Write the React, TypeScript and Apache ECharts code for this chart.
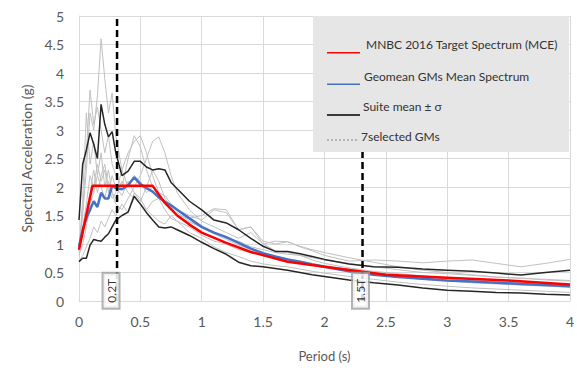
import React, { useEffect, useRef } from "react";
import * as echarts from "echarts";

// Common period grid (s) for the ground-motion spectra
const periods = [
  0, 0.03, 0.06, 0.09, 0.12, 0.15, 0.18, 0.21, 0.24, 0.27, 0.3, 0.35, 0.4, 0.45, 0.5, 0.55, 0.6,
  0.65, 0.7, 0.75, 0.8, 0.9, 1.0, 1.1, 1.2, 1.3, 1.4, 1.5, 1.6, 1.7, 1.8, 1.9, 2.0, 2.2, 2.4, 2.6,
  2.8, 3.0, 3.2, 3.4, 3.6, 3.8, 4.0,
];

// MNBC 2016 target spectrum (MCE)
const targetPeriods = [0, 0.11, 0.6, 0.7, 0.8, 0.9, 1.0, 1.2, 1.4, 1.7, 2.0, 2.5, 3.0, 3.5, 4.0];
const targetSa = [0.9, 2.02, 2.02, 1.72, 1.5, 1.34, 1.2, 1.02, 0.86, 0.69, 0.6, 0.46, 0.41, 0.36, 0.29];

// Geomean mean spectrum of the selected records
const geomeanMean = [
  0.95, 1.25, 1.45, 1.6, 1.75, 1.65, 1.9, 1.8, 1.8, 2.02, 1.98, 1.96, 2.03, 2.17, 2.05, 1.98, 1.92,
  1.82, 1.74, 1.68, 1.6, 1.45, 1.3, 1.2, 1.12, 1.02, 0.92, 0.84, 0.78, 0.73, 0.69, 0.64, 0.6, 0.52,
  0.46, 0.42, 0.39, 0.36, 0.34, 0.32, 0.3, 0.28, 0.26,
];

// Suite mean + sigma
const suiteUpper = [
  1.42, 2.4, 2.65, 2.95, 2.75, 2.5, 3.45, 3.1, 2.88, 2.97, 2.6, 2.2, 2.28, 2.45, 2.45, 2.35, 2.3,
  2.32, 2.3, 2.08, 1.97, 1.75, 1.6, 1.42, 1.37, 1.25, 1.1, 0.96, 0.87, 0.87, 0.83, 0.78, 0.73, 0.65,
  0.6, 0.59, 0.56, 0.54, 0.52, 0.49, 0.455, 0.5, 0.54,
];

// Suite mean - sigma
const suiteLower = [
  0.69, 0.75, 0.75, 0.98, 1.08, 1.06, 1.05, 1.12, 1.18, 1.3, 1.42, 1.5, 1.56, 1.84, 1.7, 1.55, 1.42,
  1.3, 1.28, 1.3, 1.25, 1.15, 1.03, 0.92, 0.82, 0.68, 0.62, 0.6, 0.57, 0.54, 0.5, 0.46, 0.43, 0.37,
  0.32, 0.28, 0.23, 0.19, 0.17, 0.15, 0.14, 0.12, 0.105,
];

// Seven selected ground motions
const gm1 = [
  0.95, 1.5, 2.3, 3.3, 3.0, 3.6, 4.6, 3.9, 3.3, 3.65, 2.9, 2.3, 2.0, 2.2, 2.1, 1.9, 2.0, 1.85, 1.75,
  1.6, 1.5, 1.38, 1.3, 1.2, 1.1, 1.05, 0.95, 0.9, 0.85, 0.82, 0.8, 0.76, 0.72, 0.66, 0.6, 0.55, 0.5,
  0.48, 0.45, 0.42, 0.4, 0.38, 0.36,
];
const gm2 = [
  0.9, 1.6, 2.6, 3.7, 3.1, 3.4, 3.0, 2.6, 2.9, 2.4, 2.2, 2.0, 2.5, 2.9, 2.7, 2.3, 2.0, 1.9, 1.85,
  1.7, 1.6, 1.5, 1.42, 1.6, 1.55, 1.25, 1.3, 1.0, 1.05, 1.04, 0.95, 0.88, 0.8, 0.7, 0.72, 0.7, 0.67,
  0.7, 0.72, 0.66, 0.6, 0.66, 0.73,
];
const gm3 = [
  0.8, 1.0, 1.3, 1.7, 1.9, 2.2, 2.0, 1.8, 2.1, 1.9, 1.7, 1.6, 1.8, 2.0, 2.2, 2.5, 2.8, 2.88, 2.6,
  2.2, 1.9, 1.6, 1.4, 1.3, 1.2, 1.1, 1.2, 1.0, 0.88, 0.85, 0.8, 0.72, 0.66, 0.58, 0.52, 0.48, 0.44,
  0.4, 0.37, 0.34, 0.32, 0.3, 0.28,
];
const gm4 = [
  0.85, 1.8, 3.3, 2.4, 2.8, 2.2, 2.6, 2.0, 2.3, 1.9, 1.8, 2.1, 1.9, 1.8, 1.7, 1.6, 1.75, 1.8, 1.6,
  1.45, 1.4, 1.3, 1.15, 1.05, 1.0, 0.9, 0.85, 0.8, 0.76, 0.72, 0.68, 0.63, 0.6, 0.53, 0.47, 0.42,
  0.38, 0.35, 0.32, 0.3, 0.28, 0.26, 0.24,
];
const gm5 = [
  0.7, 0.8, 0.95, 1.1, 1.3, 1.2, 1.4, 1.3, 1.45, 1.6, 1.5, 1.7, 1.55, 1.9, 1.8, 1.6, 1.5, 1.4, 1.35,
  1.5, 1.4, 1.2, 1.1, 0.95, 0.85, 0.78, 0.7, 0.65, 0.62, 0.6, 0.56, 0.52, 0.49, 0.43, 0.38, 0.33,
  0.29, 0.26, 0.23, 0.21, 0.19, 0.17, 0.15,
];
const gm6 = [
  0.9, 1.3, 1.7, 2.2, 2.0, 2.4, 2.1, 2.3, 1.9, 2.2, 2.0, 1.85, 2.1, 1.9, 1.75, 2.0, 2.3, 2.1, 1.8,
  1.65, 1.5, 1.45, 1.5, 1.62, 1.6, 1.25, 1.3, 1.05, 1.0, 1.04, 0.96, 0.9, 0.85, 0.76, 0.68, 0.6,
  0.54, 0.5, 0.46, 0.42, 0.4, 0.37, 0.35,
];
const gm7 = [
  1.0, 1.2, 1.6, 1.9, 2.3, 1.9, 2.2, 2.4, 2.0, 1.8, 1.9, 2.3, 2.6, 2.8, 2.9, 2.6, 2.2, 1.9, 1.7,
  1.65, 1.55, 1.4, 1.28, 1.18, 1.08, 0.98, 0.9, 0.82, 0.78, 0.74, 0.7, 0.66, 0.62, 0.56, 0.5, 0.46,
  0.42, 0.39, 0.36, 0.34, 0.32, 0.3, 0.28,
];
const groundMotions = [gm1, gm2, gm3, gm4, gm5, gm6, gm7];

// Period-range bounds (0.2T and 1.5T)
const boundPeriods = [0.31, 2.31];
const boundLabels = ["0.2T", "1.5T"];
const boundLabelShift = [-6, -2];

// Axis ranges
const xTicks = { min: 0, max: 4, interval: 0.5 };
const yTicks = { min: 0, max: 5, interval: 0.5 };

const legendEntries = [
  { text: "MNBC 2016 Target Spectrum (MCE)", color: "#ff0000", dash: "solid" },
  { text: "Geomean GMs Mean Spectrum", color: "#4472c4", dash: "solid" },
  { text: "Suite mean ± σ", color: "#000000", dash: "solid" },
  { text: "7selected GMs", color: "#a6a6a6", dash: "dotted" },
];

const pairs = (xs: number[], ys: number[]) => xs.map((x, i) => [x, ys[i]]);

const FONT = "Lato, 'Noto Sans', sans-serif";

function buildOption() {
  const gmSeries = groundMotions.map((gm, i) => ({
    name: `GM${i + 1}`,
    type: "line",
    data: pairs(periods, gm),
    showSymbol: false,
    symbol: "none",
    silent: true,
    lineStyle: { color: "#c0c0c0", width: 1 },
    z: 2,
  }));

  const blackLine = (name: string, ys: number[]) => ({
    name,
    type: "line",
    data: pairs(periods, ys),
    showSymbol: false,
    symbol: "none",
    silent: true,
    lineStyle: { color: "#262626", width: 1.5 },
    z: 3,
  });

  const boundLines = boundPeriods.map((t, i) => ({
    name: boundLabels[i],
    type: "line",
    data: [
      [t, yTicks.min],
      [t, yTicks.max],
    ],
    showSymbol: false,
    symbol: "none",
    silent: true,
    lineStyle: { color: "#000000", width: 2.5, type: [7, 4] },
    z: 6,
  }));

  // Rotated boxed labels at the foot of each bound line
  const boundLabelSeries = {
    name: "bounds",
    type: "scatter",
    symbolSize: 0,
    silent: true,
    z: 8,
    data: boundPeriods.map((t, i) => ({
      value: [t, 0.18],
      label: {
        show: true,
        formatter: boundLabels[i],
        position: "inside",
        rotate: 90,
        offset: [0, boundLabelShift[i]],
        fontFamily: FONT,
        fontSize: 12,
        color: "#000000",
        backgroundColor: "#ffffff",
        borderColor: "#a0a0a0",
        borderWidth: 2,
        padding: [2, 5, 1, 5],
      },
    })),
  };

  const LZ = 100;
  const legendChildren: any[] = [
    {
      type: "rect",
      z: LZ,
      shape: { x: 313, y: 16, width: 256, height: 136 },
      style: { fill: "#e6e6e6" },
    },
  ];
  const rowText = [44.3, 76, 106.7, 136.7];
  const rowLine = [52.7, 84.3, 115, 140];
  const textX = [366, 364, 363, 361];
  legendEntries.forEach((e, i) => {
    legendChildren.push({
      type: "line",
      z: LZ + 1,
      shape: { x1: 327, y1: rowLine[i], x2: e.dash === "dotted" ? 357 : 360, y2: rowLine[i] },
      style: {
        stroke: e.color,
        lineWidth: 1.5,
        lineDash: e.dash === "dotted" ? [2, 2] : null,
      },
    });
    legendChildren.push({
      type: "text",
      z: LZ + 1,
      x: textX[i],
      y: rowText[i],
      style: {
        text: e.text,
        fill: "#333333",
        font: `12px ${FONT}`,
        verticalAlign: "middle",
        align: "left",
      },
    });
  });

  return {
    animation: false,
    textStyle: { fontFamily: FONT },
    grid: { left: 79, right: 7, top: 16, bottom: 69 },
    xAxis: {
      type: "value",
      ...xTicks,
      name: "Period (s)",
      nameLocation: "middle",
      nameGap: 48,
      nameTextStyle: { color: "#595959", fontSize: 13, fontFamily: FONT },
      axisLine: { show: true, lineStyle: { color: "#d9d9d9" } },
      axisTick: { show: false },
      splitLine: { show: true, lineStyle: { color: "#d9d9d9" } },
      axisLabel: { color: "#595959", fontSize: 14, margin: 13, fontFamily: FONT },
    },
    yAxis: {
      type: "value",
      ...yTicks,
      name: "Spectral Acceleration (g)",
      nameLocation: "middle",
      nameGap: 46,
      nameTextStyle: { color: "#595959", fontSize: 14, fontFamily: FONT },
      axisLine: { show: true, lineStyle: { color: "#d9d9d9" } },
      axisTick: { show: false },
      splitLine: { show: true, lineStyle: { color: "#d9d9d9" } },
      axisLabel: { color: "#595959", fontSize: 14, margin: 15, fontFamily: FONT },
    },
    series: [
      ...gmSeries,
      blackLine("Suite mean + σ", suiteUpper),
      blackLine("Suite mean - σ", suiteLower),
      {
        name: "Geomean GMs Mean Spectrum",
        type: "line",
        data: pairs(periods, geomeanMean),
        showSymbol: false,
        symbol: "none",
        silent: true,
        lineStyle: { color: "#4472c4", width: 2.5 },
        z: 4,
      },
      {
        name: "MNBC 2016 Target Spectrum (MCE)",
        type: "line",
        data: pairs(targetPeriods, targetSa),
        showSymbol: false,
        symbol: "none",
        silent: true,
        lineStyle: { color: "#ff0000", width: 2.5 },
        z: 5,
      },
      ...boundLines,
      boundLabelSeries,
    ],
    graphic: { z: 100, elements: [{ type: "group", z: LZ, children: legendChildren }] },
  };
}

export default function App() {
  const ref = useRef<HTMLDivElement>(null);
  useEffect(() => {
    if (!ref.current) return;
    const chart = echarts.init(ref.current, null, { renderer: "svg" });
    chart.setOption(buildOption() as any);
    return () => chart.dispose();
  }, []);
  return (
    <div
      ref={ref}
      style={{ position: "fixed", left: 0, top: 0, width: 577, height: 370, background: "#ffffff" }}
    />
  );
}
